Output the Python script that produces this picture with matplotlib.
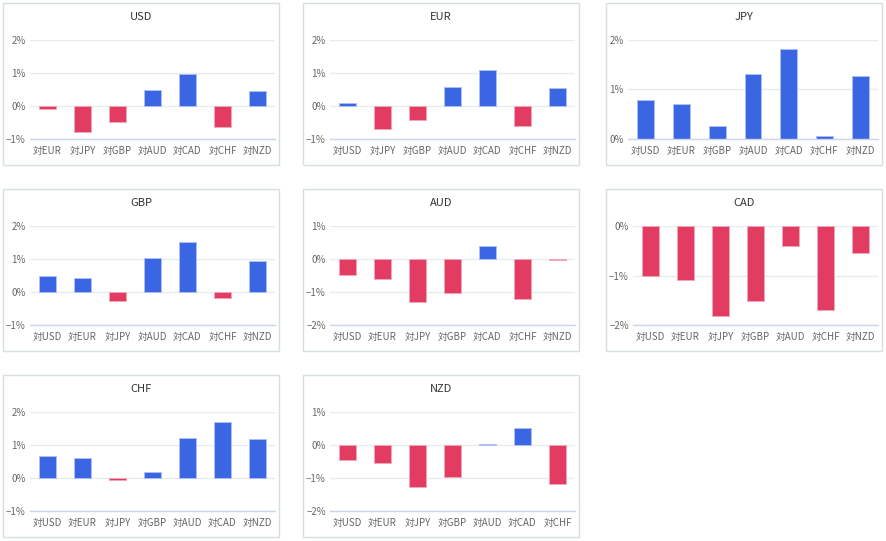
import matplotlib
matplotlib.use("Agg")
import matplotlib.pyplot as plt
from matplotlib.patches import Rectangle
from matplotlib.ticker import FuncFormatter

plt.rcParams['font.family'] = ['Noto Sans CJK JP', 'DejaVu Sans']

# ---- data ----
titles = ["USD", "EUR", "JPY", "GBP", "AUD", "CAD", "CHF", "NZD"]

usd_labels = ["対EUR", "対JPY", "対GBP", "対AUD", "対CAD", "対CHF", "対NZD"]
usd_values = [-0.08, -0.78, -0.48, 0.49, 0.97, -0.65, 0.44]

eur_labels = ["対USD", "対JPY", "対GBP", "対AUD", "対CAD", "対CHF", "対NZD"]
eur_values = [0.08, -0.70, -0.41, 0.58, 1.09, -0.61, 0.54]

jpy_labels = ["対USD", "対EUR", "対GBP", "対AUD", "対CAD", "対CHF", "対NZD"]
jpy_values = [0.79, 0.71, 0.27, 1.31, 1.81, 0.07, 1.27]

gbp_labels = ["対USD", "対EUR", "対JPY", "対AUD", "対CAD", "対CHF", "対NZD"]
gbp_values = [0.49, 0.41, -0.28, 1.02, 1.51, -0.19, 0.94]

aud_labels = ["対USD", "対EUR", "対JPY", "対GBP", "対CAD", "対CHF", "対NZD"]
aud_values = [-0.49, -0.60, -1.29, -1.03, 0.39, -1.22, -0.04]

cad_labels = ["対USD", "対EUR", "対JPY", "対GBP", "対AUD", "対CHF", "対NZD"]
cad_values = [-1.00, -1.10, -1.81, -1.52, -0.41, -1.70, -0.54]

chf_labels = ["対USD", "対EUR", "対JPY", "対GBP", "対AUD", "対CAD", "対NZD"]
chf_values = [0.66, 0.61, -0.07, 0.17, 1.21, 1.70, 1.18]

nzd_labels = ["対USD", "対EUR", "対JPY", "対GBP", "対AUD", "対CAD", "対CHF"]
nzd_values = [-0.45, -0.56, -1.27, -0.97, 0.02, 0.51, -1.18]

y_ranges = [(-1, 2), (-1, 2), (0, 2), (-1, 2), (-2, 1), (-2, 0), (-1, 2), (-2, 1)]
y_ticks = [[-1, 0, 1, 2], [-1, 0, 1, 2], [0, 1, 2], [-1, 0, 1, 2],
           [-2, -1, 0, 1], [-2, -1, 0], [-1, 0, 1, 2], [-2, -1, 0, 1]]

all_labels = [usd_labels, eur_labels, jpy_labels, gbp_labels,
              aud_labels, cad_labels, chf_labels, nzd_labels]
all_values = [usd_values, eur_values, jpy_values, gbp_values,
              aud_values, cad_values, chf_values, nzd_values]

# ---- style ----
W, H = 887, 541
BLUE = "#3a66e4"
RED = "#e33c62"
BLUE_EDGE = "#aebff5"
RED_EDGE = "#f3a6b8"
PANEL_EDGE = "#d6e0de"
GRID = "#e9ecef"
AXIS = "#ccd6eb"
TICK = "#666666"
TITLE = "#333333"

fig = plt.figure(figsize=(W / 100, H / 100), dpi=100)
fig.patch.set_facecolor("white")

col_x = [3, 303, 606]
row_y = [3, 189, 375]
PW, PH = 276, 162

fmt = FuncFormatter(lambda v, p: ("\u2212" if v < 0 else "") + f"{abs(int(round(v)))}%")

for i, (title, labels, values) in enumerate(zip(titles, all_labels, all_values)):
    r, c = divmod(i, 3)
    x0, y0 = col_x[c], row_y[r]
    # panel border
    fig.patches.append(Rectangle((x0 / W, 1 - (y0 + PH) / H), PW / W, PH / H,
                                 transform=fig.transFigure, fill=False,
                                 edgecolor=PANEL_EDGE, linewidth=1.0))
    left = x0 + (22 if title == "JPY" else 27)
    right = x0 + 272
    top = y0 + 37
    bottom = y0 + 136
    ax = fig.add_axes([left / W, 1 - bottom / H, (right - left) / W, (bottom - top) / H])
    colors = [BLUE if v >= 0 else RED for v in values]
    edges = [BLUE_EDGE if v >= 0 else RED_EDGE for v in values]
    xs = range(len(values))
    ax.bar(xs, values, width=0.47, color=colors, edgecolor=edges, linewidth=0.7, zorder=3)
    ax.set_xlim(-0.5, len(values) - 0.5)
    ax.set_ylim(*y_ranges[i])
    ax.set_yticks(y_ticks[i])
    ax.yaxis.set_major_formatter(fmt)
    ax.set_xticks(list(xs))
    ax.set_xticklabels(labels)
    ax.grid(axis="y", color=GRID, linewidth=1.0, zorder=0)
    for s in ["top", "right", "left"]:
        ax.spines[s].set_visible(False)
    ax.spines["bottom"].set_color(AXIS)
    ax.spines["bottom"].set_linewidth(1.0)
    ax.spines["bottom"].set_zorder(4)
    ax.tick_params(axis="both", length=0, labelsize=7, labelcolor=TICK)
    ax.tick_params(axis="x", pad=5)
    ax.tick_params(axis="y", pad=3)
    fig.text((x0 + PW / 2) / W, 1 - (y0 + 14) / H, title, ha="center", va="center",
             fontsize=8, color=TITLE)

fig.savefig("out.png", dpi=100, facecolor="white")
